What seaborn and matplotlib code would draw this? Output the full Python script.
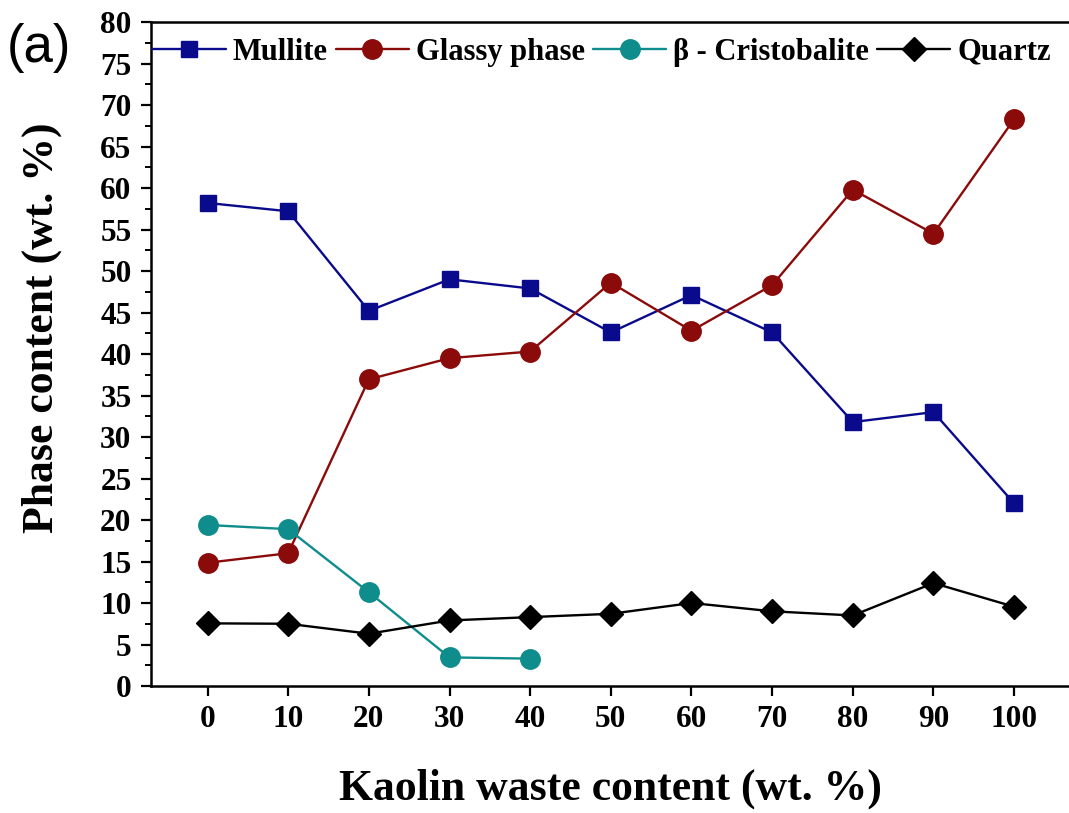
import matplotlib
matplotlib.use("Agg")
import matplotlib.pyplot as plt
from matplotlib.ticker import MultipleLocator
import seaborn as sns
import pandas as pd

# Kaolin waste content (wt. %)
kaolin = [0, 10, 20, 30, 40, 50, 60, 70, 80, 90, 100]
kaolin_cristobalite = [0, 10, 20, 30, 40]

# Phase content (wt. %)
mullite = [58.2, 57.2, 45.2, 49.0, 47.9, 42.6, 47.1, 42.6, 31.8, 33.0, 22.0]
glassy = [14.85, 16.0, 36.95, 39.5, 40.3, 48.6, 42.8, 48.3, 59.8, 54.5, 68.3]
cristobalite = [19.4, 18.9, 11.3, 3.45, 3.3]
quartz = [7.55, 7.5, 6.3, 7.9, 8.3, 8.7, 10.0, 9.0, 8.5, 12.4, 9.55]

labels = ["Mullite", "Glassy phase", "\u03b2 - Cristobalite", "Quartz"]
x_ticks = [0, 10, 20, 30, 40, 50, 60, 70, 80, 90, 100]
y_ticks = list(range(0, 81, 5))

sns.set_style("ticks")
plt.rcParams["font.family"] = ["Liberation Serif", "DejaVu Serif"]
plt.rcParams["font.weight"] = "bold"
plt.rcParams["axes.labelweight"] = "bold"
for key in ["text.color", "axes.labelcolor", "xtick.color", "ytick.color",
            "axes.edgecolor"]:
    plt.rcParams[key] = "black"

fig = plt.figure(figsize=(10.69, 8.13), dpi=100)
ax = fig.add_axes([0.1413, 0.1562, 0.8587, 0.8167])

series = [
    (kaolin, mullite, labels[0], "#0a0a8c", "s", 11.5),
    (kaolin, glassy, labels[1], "#8b0a0a", "o", 14),
    (kaolin_cristobalite, cristobalite, labels[2], "#0f8c8c", "o", 14),
    (kaolin, quartz, labels[3], "#000000", "D", 12),
]
for xs, ys, lab, col, mk, ms in series:
    df = pd.DataFrame({"x": xs, "y": ys})
    sns.lineplot(data=df, x="x", y="y", ax=ax, color=col, marker=mk,
                 markersize=ms, markeredgecolor=col, markeredgewidth=1,
                 linewidth=1.7, label=lab)

ax.set_xlim(-7, 106.8)
ax.set_ylim(0, 80)
ax.set_xticks(x_ticks)
ax.set_yticks(y_ticks)
ax.yaxis.set_minor_locator(MultipleLocator(2.5))

for side in ["left", "top", "bottom"]:
    ax.spines[side].set_linewidth(1.8)
    ax.spines[side].set_color("black")
ax.spines["right"].set_visible(False)

ax.tick_params(axis="both", which="major", direction="out", length=7,
               width=1.6, labelsize=22.5, pad=7, top=False, right=False,
               colors="black")
ax.tick_params(axis="y", which="minor", direction="out", length=4,
               width=1.4, right=False, colors="black")
ax.tick_params(axis="x", which="minor", bottom=False, top=False)
for t in ax.get_xticklabels() + ax.get_yticklabels():
    t.set_fontweight("bold")

ax.set_xlabel("Kaolin waste content (wt. %)", fontsize=31.5,
              fontweight="bold", color="black")
ax.set_ylabel("Phase content (wt. %)", fontsize=31.5,
              fontweight="bold", color="black")
ax.xaxis.set_label_coords(0.5, -0.125)
ax.yaxis.set_label_coords(-0.097, 0.54)

leg = ax.legend(loc="upper left", bbox_to_anchor=(-0.012, 0.995), ncol=4,
                frameon=False, fontsize=22, handlelength=2.4,
                handletextpad=0.23, columnspacing=0.26, borderaxespad=0.2,
                borderpad=0.2)
for txt in leg.get_texts():
    txt.set_fontweight("bold")
    txt.set_color("black")

fig.text(0.006, 1 - 48 / 813, "(a)", fontsize=38, va="center", ha="left",
         family=["Liberation Sans", "DejaVu Sans"], fontweight="normal",
         color="black")

fig.savefig("out.png", dpi=100, facecolor="white")
